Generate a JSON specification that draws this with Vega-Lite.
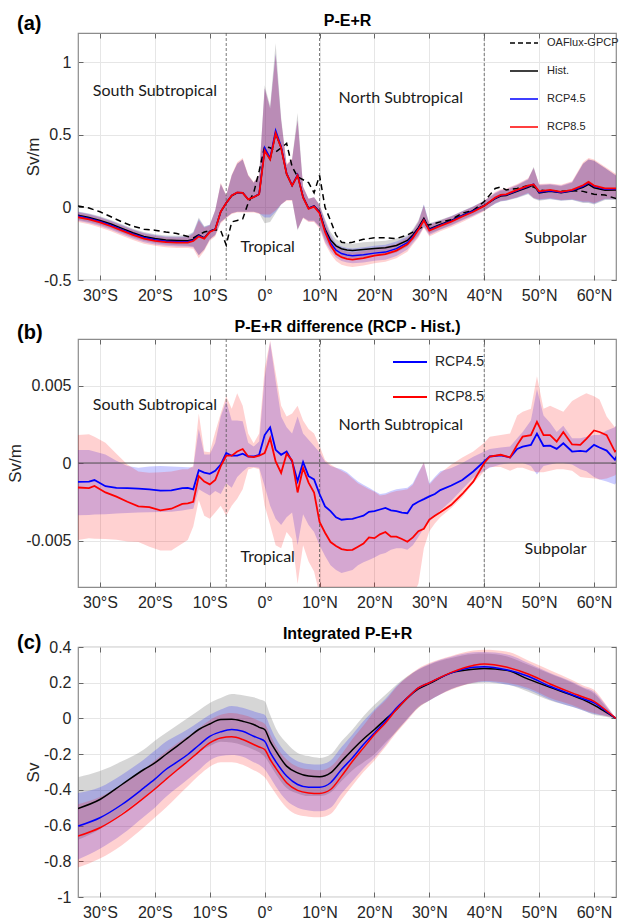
{
"$schema": "https://vega.github.io/schema/vega-lite/v6.json",
"background": "white",
"padding": {"left": 6, "top": 12, "right": 5, "bottom": 2},
"spacing": 14,
"config": {
  "font": "Liberation Sans",
  "view": {"stroke": "#8c8c8c", "strokeWidth": 1.2},
  "axis": {"domain": false, "gridColor": "#e6e6e6", "gridWidth": 1, "tickColor": "#666666", "tickWidth": 1, "tickSize": -5, "labelPadding": 12, "titlePadding": 1, "labelColor": "#262626", "labelFont": "Liberation Sans", "labelFontSize": 16, "titleFont": "Liberation Sans", "titleFontSize": 17, "titleFontWeight": "normal", "titleColor": "#262626"}
},
"resolve": {"scale": {"color": "independent", "x": "independent", "y": "independent"}, "legend": {"color": "independent"}},
"datasets": {
"a": [
{"x":-34,"o":0.01,"h":-0.055,"hl":-0.085,"hh":-0.028,"b":-0.06,"bl":-0.092,"bh":-0.03,"r":-0.068,"rl":-0.1,"rh":-0.035},
{"x":-32,"o":-0.005,"h":-0.07,"hl":-0.1,"hh":-0.042,"b":-0.076,"bl":-0.108,"bh":-0.046,"r":-0.083,"rl":-0.117,"rh":-0.05},
{"x":-30,"o":-0.03,"h":-0.09,"hl":-0.12,"hh":-0.062,"b":-0.097,"bl":-0.129,"bh":-0.067,"r":-0.104,"rl":-0.139,"rh":-0.07},
{"x":-28,"o":-0.065,"h":-0.115,"hl":-0.145,"hh":-0.087,"b":-0.122,"bl":-0.154,"bh":-0.092,"r":-0.13,"rl":-0.165,"rh":-0.096},
{"x":-26,"o":-0.1,"h":-0.145,"hl":-0.175,"hh":-0.117,"b":-0.153,"bl":-0.185,"bh":-0.122,"r":-0.16,"rl":-0.195,"rh":-0.126},
{"x":-24,"o":-0.13,"h":-0.175,"hl":-0.205,"hh":-0.147,"b":-0.183,"bl":-0.215,"bh":-0.152,"r":-0.19,"rl":-0.225,"rh":-0.156},
{"x":-22,"o":-0.15,"h":-0.2,"hl":-0.23,"hh":-0.17,"b":-0.208,"bl":-0.24,"bh":-0.176,"r":-0.215,"rl":-0.25,"rh":-0.18},
{"x":-20,"o":-0.157,"h":-0.215,"hl":-0.245,"hh":-0.185,"b":-0.223,"bl":-0.255,"bh":-0.191,"r":-0.23,"rl":-0.265,"rh":-0.195},
{"x":-18,"o":-0.17,"h":-0.225,"hl":-0.255,"hh":-0.193,"b":-0.233,"bl":-0.265,"bh":-0.2,"r":-0.24,"rl":-0.275,"rh":-0.205},
{"x":-16,"o":-0.18,"h":-0.228,"hl":-0.26,"hh":-0.195,"b":-0.236,"bl":-0.27,"bh":-0.203,"r":-0.243,"rl":-0.28,"rh":-0.208},
{"x":-14,"o":-0.2,"h":-0.23,"hl":-0.265,"hh":-0.19,"b":-0.237,"bl":-0.272,"bh":-0.2,"r":-0.243,"rl":-0.28,"rh":-0.205},
{"x":-13,"o":-0.21,"h":-0.222,"hl":-0.27,"hh":-0.17,"b":-0.227,"bl":-0.275,"bh":-0.175,"r":-0.232,"rl":-0.285,"rh":-0.18},
{"x":-12,"o":-0.19,"h":-0.19,"hl":-0.33,"hh":-0.07,"b":-0.195,"bl":-0.33,"bh":-0.08,"r":-0.2,"rl":-0.35,"rh":-0.09},
{"x":-11,"o":-0.17,"h":-0.21,"hl":-0.29,"hh":-0.13,"b":-0.212,"bl":-0.29,"bh":-0.135,"r":-0.215,"rl":-0.3,"rh":-0.14},
{"x":-10,"o":-0.16,"h":-0.165,"hl":-0.22,"hh":-0.12,"b":-0.167,"bl":-0.222,"bh":-0.12,"r":-0.17,"rl":-0.23,"rh":-0.125},
{"x":-9,"o":-0.155,"h":-0.15,"hl":-0.19,"hh":-0.02,"b":-0.15,"bl":-0.19,"bh":-0.02,"r":-0.152,"rl":-0.2,"rh":-0.02},
{"x":-8,"o":-0.16,"h":-0.03,"hl":-0.1,"hh":0.16,"b":-0.03,"bl":-0.1,"bh":0.16,"r":-0.03,"rl":-0.11,"rh":0.17},
{"x":-7,"o":-0.26,"h":0.03,"hl":-0.07,"hh":0.08,"b":0.03,"bl":-0.07,"bh":0.08,"r":0.03,"rl":-0.075,"rh":0.085},
{"x":-6,"o":-0.1,"h":0.08,"hl":-0.04,"hh":0.22,"b":0.082,"bl":-0.04,"bh":0.22,"r":0.082,"rl":-0.045,"rh":0.225},
{"x":-5,"o":-0.09,"h":0.1,"hl":-0.03,"hh":0.3,"b":0.102,"bl":-0.03,"bh":0.3,"r":0.103,"rl":-0.035,"rh":0.31},
{"x":-4,"o":-0.08,"h":0.1,"hl":-0.03,"hh":0.33,"b":0.1,"bl":-0.03,"bh":0.33,"r":0.1,"rl":-0.035,"rh":0.34},
{"x":-3,"o":0.03,"h":0.055,"hl":-0.03,"hh":0.22,"b":0.056,"bl":-0.03,"bh":0.22,"r":0.055,"rl":-0.035,"rh":0.225},
{"x":-2,"o":0.1,"h":0.07,"hl":-0.03,"hh":0.17,"b":0.07,"bl":-0.03,"bh":0.17,"r":0.07,"rl":-0.035,"rh":0.175},
{"x":-1,"o":0.25,"h":0.09,"hl":-0.04,"hh":0.22,"b":0.092,"bl":-0.04,"bh":0.22,"r":0.09,"rl":-0.045,"rh":0.225},
{"x":0,"o":0.42,"h":0.4,"hl":-0.11,"hh":0.84,"b":0.41,"bl":-0.07,"bh":0.82,"r":0.39,"rl":-0.05,"rh":0.82},
{"x":1,"o":0.41,"h":0.33,"hl":-0.1,"hh":0.7,"b":0.34,"bl":-0.07,"bh":0.68,"r":0.33,"rl":-0.05,"rh":0.68},
{"x":2,"o":0.38,"h":0.51,"hl":-0.04,"hh":1.13,"b":0.53,"bl":-0.03,"bh":1.06,"r":0.51,"rl":-0.02,"rh":1.05},
{"x":3,"o":0.41,"h":0.41,"hl":0.02,"hh":0.62,"b":0.42,"bl":0.02,"bh":0.6,"r":0.41,"rl":0.02,"rh":0.6},
{"x":4,"o":0.44,"h":0.23,"hl":0.05,"hh":0.29,"b":0.235,"bl":0.05,"bh":0.29,"r":0.23,"rl":0.045,"rh":0.3},
{"x":5,"o":0.28,"h":0.15,"hl":0.05,"hh":0.33,"b":0.152,"bl":0.05,"bh":0.33,"r":0.15,"rl":0.045,"rh":0.335},
{"x":6,"o":0.21,"h":0.22,"hl":-0.16,"hh":0.65,"b":0.225,"bl":-0.15,"bh":0.6,"r":0.22,"rl":-0.15,"rh":0.6},
{"x":7,"o":0.19,"h":0.07,"hl":-0.07,"hh":0.14,"b":0.07,"bl":-0.07,"bh":0.14,"r":0.068,"rl":-0.075,"rh":0.145},
{"x":8,"o":0.17,"h":-0.005,"hl":-0.09,"hh":0.06,"b":-0.008,"bl":-0.095,"bh":0.06,"r":-0.01,"rl":-0.1,"rh":0.06},
{"x":9,"o":0.1,"h":0.01,"hl":-0.09,"hh":0.07,"b":0.008,"bl":-0.095,"bh":0.07,"r":0.005,"rl":-0.1,"rh":0.07},
{"x":10,"o":0.22,"h":-0.03,"hl":-0.13,"hh":0.02,"b":-0.035,"bl":-0.135,"bh":0.015,"r":-0.04,"rl":-0.145,"rh":0.015},
{"x":11,"o":0,"h":-0.15,"hl":-0.22,"hh":-0.08,"b":-0.16,"bl":-0.24,"bh":-0.09,"r":-0.17,"rl":-0.25,"rh":-0.1},
{"x":12,"o":-0.09,"h":-0.225,"hl":-0.28,"hh":-0.17,"b":-0.245,"bl":-0.3,"bh":-0.19,"r":-0.26,"rl":-0.32,"rh":-0.2},
{"x":13,"o":-0.19,"h":-0.265,"hl":-0.315,"hh":-0.22,"b":-0.295,"bl":-0.345,"bh":-0.25,"r":-0.32,"rl":-0.37,"rh":-0.27},
{"x":14,"o":-0.24,"h":-0.285,"hl":-0.335,"hh":-0.24,"b":-0.318,"bl":-0.37,"bh":-0.27,"r":-0.343,"rl":-0.395,"rh":-0.29},
{"x":15,"o":-0.245,"h":-0.293,"hl":-0.345,"hh":-0.245,"b":-0.328,"bl":-0.38,"bh":-0.28,"r":-0.355,"rl":-0.405,"rh":-0.305},
{"x":16,"o":-0.24,"h":-0.297,"hl":-0.35,"hh":-0.25,"b":-0.333,"bl":-0.385,"bh":-0.283,"r":-0.36,"rl":-0.41,"rh":-0.31},
{"x":18,"o":-0.22,"h":-0.29,"hl":-0.345,"hh":-0.24,"b":-0.326,"bl":-0.38,"bh":-0.275,"r":-0.35,"rl":-0.4,"rh":-0.3},
{"x":20,"o":-0.21,"h":-0.283,"hl":-0.335,"hh":-0.235,"b":-0.315,"bl":-0.368,"bh":-0.265,"r":-0.332,"rl":-0.385,"rh":-0.28},
{"x":22,"o":-0.21,"h":-0.278,"hl":-0.33,"hh":-0.23,"b":-0.308,"bl":-0.36,"bh":-0.258,"r":-0.322,"rl":-0.375,"rh":-0.27},
{"x":24,"o":-0.215,"h":-0.262,"hl":-0.31,"hh":-0.215,"b":-0.284,"bl":-0.335,"bh":-0.235,"r":-0.298,"rl":-0.35,"rh":-0.25},
{"x":26,"o":-0.19,"h":-0.228,"hl":-0.27,"hh":-0.19,"b":-0.243,"bl":-0.29,"bh":-0.2,"r":-0.255,"rl":-0.305,"rh":-0.21},
{"x":27,"o":-0.17,"h":-0.19,"hl":-0.23,"hh":-0.15,"b":-0.2,"bl":-0.245,"bh":-0.16,"r":-0.21,"rl":-0.255,"rh":-0.165},
{"x":28,"o":-0.15,"h":-0.14,"hl":-0.19,"hh":-0.09,"b":-0.148,"bl":-0.2,"bh":-0.1,"r":-0.155,"rl":-0.21,"rh":-0.1},
{"x":29,"o":-0.13,"h":-0.075,"hl":-0.13,"hh":0.02,"b":-0.085,"bl":-0.135,"bh":0.02,"r":-0.09,"rl":-0.14,"rh":0.01},
{"x":30,"o":-0.12,"h":-0.148,"hl":-0.18,"hh":-0.11,"b":-0.153,"bl":-0.19,"bh":-0.115,"r":-0.16,"rl":-0.2,"rh":-0.12},
{"x":32,"o":-0.1,"h":-0.118,"hl":-0.15,"hh":-0.085,"b":-0.122,"bl":-0.155,"bh":-0.09,"r":-0.128,"rl":-0.165,"rh":-0.09},
{"x":34,"o":-0.085,"h":-0.09,"hl":-0.12,"hh":-0.06,"b":-0.093,"bl":-0.125,"bh":-0.062,"r":-0.098,"rl":-0.135,"rh":-0.063},
{"x":36,"o":-0.04,"h":-0.055,"hl":-0.085,"hh":-0.025,"b":-0.058,"bl":-0.09,"bh":-0.027,"r":-0.063,"rl":-0.1,"rh":-0.028},
{"x":38,"o":-0.02,"h":-0.022,"hl":-0.052,"hh":0.008,"b":-0.025,"bl":-0.057,"bh":0.006,"r":-0.03,"rl":-0.065,"rh":0.005},
{"x":40,"o":0.04,"h":0.013,"hl":-0.02,"hh":0.045,"b":0.012,"bl":-0.022,"bh":0.045,"r":0.01,"rl":-0.027,"rh":0.045},
{"x":42,"o":0.13,"h":0.06,"hl":0.025,"hh":0.095,"b":0.063,"bl":0.025,"bh":0.1,"r":0.068,"rl":0.03,"rh":0.105},
{"x":43,"o":0.14,"h":0.078,"hl":0.04,"hh":0.115,"b":0.082,"bl":0.042,"bh":0.12,"r":0.086,"rl":0.045,"rh":0.125},
{"x":44,"o":0.12,"h":0.082,"hl":0.045,"hh":0.12,"b":0.086,"bl":0.047,"bh":0.125,"r":0.09,"rl":0.05,"rh":0.13},
{"x":46,"o":0.13,"h":0.11,"hl":0.065,"hh":0.15,"b":0.115,"bl":0.068,"bh":0.155,"r":0.12,"rl":0.07,"rh":0.16},
{"x":48,"o":0.15,"h":0.138,"hl":0.09,"hh":0.19,"b":0.145,"bl":0.095,"bh":0.195,"r":0.15,"rl":0.1,"rh":0.2},
{"x":49,"o":0.14,"h":0.155,"hl":0.06,"hh":0.28,"b":0.16,"bl":0.065,"bh":0.27,"r":0.158,"rl":0.065,"rh":0.27},
{"x":50,"o":0.12,"h":0.1,"hl":0.045,"hh":0.15,"b":0.105,"bl":0.05,"bh":0.155,"r":0.11,"rl":0.055,"rh":0.16},
{"x":52,"o":0.11,"h":0.11,"hl":0.055,"hh":0.155,"b":0.115,"bl":0.06,"bh":0.16,"r":0.12,"rl":0.065,"rh":0.165},
{"x":54,"o":0.11,"h":0.1,"hl":0.045,"hh":0.145,"b":0.103,"bl":0.048,"bh":0.15,"r":0.106,"rl":0.05,"rh":0.155},
{"x":56,"o":0.115,"h":0.112,"hl":0.05,"hh":0.17,"b":0.116,"bl":0.052,"bh":0.175,"r":0.12,"rl":0.055,"rh":0.18},
{"x":58,"o":0.11,"h":0.138,"hl":0.03,"hh":0.3,"b":0.145,"bl":0.035,"bh":0.3,"r":0.152,"rl":0.04,"rh":0.31},
{"x":59,"o":0.1,"h":0.158,"hl":0.03,"hh":0.33,"b":0.168,"bl":0.035,"bh":0.33,"r":0.175,"rl":0.04,"rh":0.34},
{"x":60,"o":0.09,"h":0.135,"hl":0.02,"hh":0.32,"b":0.145,"bl":0.025,"bh":0.32,"r":0.15,"rl":0.03,"rh":0.33},
{"x":62,"o":0.085,"h":0.118,"hl":0.05,"hh":0.27,"b":0.125,"bl":0.055,"bh":0.27,"r":0.13,"rl":0.06,"rh":0.28},
{"x":64,"o":0.06,"h":0.12,"hl":0.05,"hh":0.22,"b":0.127,"bl":0.055,"bh":0.22,"r":0.13,"rl":0.06,"rh":0.23}
],
"b": [
{"x":-34,"b":-0.00122,"bl":-0.00337,"bh":0.00084,"r":-0.00158,"rl":-0.00496,"rh":0.0018},
{"x":-32,"b":-0.0012,"bl":-0.00335,"bh":0.00084,"r":-0.00162,"rl":-0.00485,"rh":0.00185},
{"x":-31,"b":-0.0011,"bl":-0.00333,"bh":0.00075,"r":-0.00148,"rl":-0.00488,"rh":0.0017},
{"x":-29,"b":-0.0015,"bl":-0.0033,"bh":0.00055,"r":-0.0019,"rl":-0.0049,"rh":0.0013},
{"x":-27,"b":-0.0016,"bl":-0.00325,"bh":0.00015,"r":-0.00217,"rl":-0.00495,"rh":0.0006},
{"x":-25,"b":-0.00162,"bl":-0.00322,"bh":-0.0002,"r":-0.0025,"rl":-0.00506,"rh":-0.0001},
{"x":-23,"b":-0.00165,"bl":-0.0032,"bh":-0.0003,"r":-0.0028,"rl":-0.0051,"rh":-0.00055},
{"x":-21,"b":-0.0017,"bl":-0.00318,"bh":-0.00022,"r":-0.00285,"rl":-0.0054,"rh":-0.00063},
{"x":-19,"b":-0.00178,"bl":-0.00316,"bh":-0.0002,"r":-0.00306,"rl":-0.00565,"rh":-0.0006},
{"x":-17,"b":-0.00176,"bl":-0.00314,"bh":-0.00022,"r":-0.00295,"rl":-0.00565,"rh":-0.00055},
{"x":-15,"b":-0.00162,"bl":-0.00306,"bh":-0.00025,"r":-0.00264,"rl":-0.0052,"rh":-0.0004},
{"x":-14,"b":-0.0016,"bl":-0.003,"bh":-0.00028,"r":-0.0026,"rl":-0.00496,"rh":-0.0004},
{"x":-13,"b":-0.0017,"bl":-0.00295,"bh":-0.00028,"r":-0.0025,"rl":-0.0041,"rh":-0.0002},
{"x":-12,"b":-0.00046,"bl":-0.0017,"bh":0.0022,"r":-0.00084,"rl":-0.0024,"rh":0.0032},
{"x":-11,"b":-0.00062,"bl":-0.0019,"bh":0.00055,"r":-0.0012,"rl":-0.0034,"rh":0.00074},
{"x":-10,"b":-0.0007,"bl":-0.0021,"bh":0.00055,"r":-0.00138,"rl":-0.0036,"rh":0.0007},
{"x":-9,"b":-0.0005,"bl":-0.0018,"bh":0.0013,"r":-0.0011,"rl":-0.0032,"rh":0.002},
{"x":-8,"b":-0.0001,"bl":-0.002,"bh":0.003,"r":-0.0002,"rl":-0.00275,"rh":0.0032},
{"x":-7,"b":0.00065,"bl":-0.0013,"bh":0.004,"r":0.00047,"rl":-0.0034,"rh":0.0043},
{"x":-6,"b":0.00047,"bl":-0.0016,"bh":0.00275,"r":0.00047,"rl":-0.00275,"rh":0.0035},
{"x":-5,"b":0.00047,"bl":-0.0009,"bh":0.00275,"r":0.00074,"rl":-0.0023,"rh":0.0045},
{"x":-4,"b":0.0006,"bl":-0.00055,"bh":0.0027,"r":0.0009,"rl":-0.0017,"rh":0.0037},
{"x":-3,"b":0.00042,"bl":-0.00025,"bh":0.0013,"r":0.00042,"rl":-0.00042,"rh":0.0019},
{"x":-2,"b":0.00042,"bl":-0.00025,"bh":0.00106,"r":0.00038,"rl":-0.0003,"rh":0.00127},
{"x":-1,"b":0.00053,"bl":-0.0003,"bh":0.00138,"r":0.00047,"rl":-0.0004,"rh":0.0019},
{"x":0,"b":0.0018,"bl":-0.0015,"bh":0.0055,"r":0.00064,"rl":-0.00275,"rh":0.0061},
{"x":1,"b":0.0023,"bl":-0.00275,"bh":0.0078,"r":0.0016,"rl":-0.004,"rh":0.0079},
{"x":2,"b":0.00085,"bl":-0.0036,"bh":0.0053,"r":0.0001,"rl":-0.0053,"rh":0.0058},
{"x":3,"b":0.00053,"bl":-0.004,"bh":0.003,"r":-0.00064,"rl":-0.0055,"rh":0.0037},
{"x":4,"b":0.00074,"bl":-0.0035,"bh":0.0023,"r":0.0006,"rl":-0.00445,"rh":0.003},
{"x":5,"b":0.0001,"bl":-0.0032,"bh":0.0019,"r":0.00017,"rl":-0.0049,"rh":0.0032},
{"x":6,"b":-0.00117,"bl":-0.0053,"bh":0.003,"r":-0.0019,"rl":-0.0078,"rh":0.0037},
{"x":7,"b":0.00006,"bl":-0.0033,"bh":0.0019,"r":-0.00032,"rl":-0.0053,"rh":0.00275},
{"x":8,"b":-0.00085,"bl":-0.004,"bh":0.0015,"r":-0.00127,"rl":-0.00635,"rh":0.0022},
{"x":9,"b":-0.00106,"bl":-0.00445,"bh":0.0011,"r":-0.0019,"rl":-0.007,"rh":0.0019},
{"x":10,"b":-0.002,"bl":-0.0053,"bh":0.0007,"r":-0.0038,"rl":-0.0085,"rh":0.0011},
{"x":11,"b":-0.0028,"bl":-0.006,"bh":0.0001,"r":-0.0045,"rl":-0.009,"rh":0.0002},
{"x":12,"b":-0.0031,"bl":-0.0066,"bh":-0.0002,"r":-0.0051,"rl":-0.009,"rh":-0.0001},
{"x":13,"b":-0.0035,"bl":-0.0069,"bh":-0.0003,"r":-0.00535,"rl":-0.009,"rh":-0.0003},
{"x":14,"b":-0.00366,"bl":-0.0071,"bh":-0.0004,"r":-0.00555,"rl":-0.009,"rh":-0.0005},
{"x":15,"b":-0.00362,"bl":-0.007,"bh":-0.0006,"r":-0.00562,"rl":-0.009,"rh":-0.0007},
{"x":16,"b":-0.0036,"bl":-0.0069,"bh":-0.0009,"r":-0.0056,"rl":-0.009,"rh":-0.001},
{"x":17,"b":-0.0035,"bl":-0.0066,"bh":-0.0012,"r":-0.0054,"rl":-0.009,"rh":-0.0013},
{"x":18,"b":-0.0034,"bl":-0.0064,"bh":-0.0014,"r":-0.0052,"rl":-0.009,"rh":-0.0015},
{"x":19,"b":-0.00315,"bl":-0.00625,"bh":-0.0016,"r":-0.0048,"rl":-0.009,"rh":-0.0017},
{"x":20,"b":-0.0031,"bl":-0.0061,"bh":-0.0018,"r":-0.00485,"rl":-0.009,"rh":-0.00185},
{"x":21,"b":-0.003,"bl":-0.0059,"bh":-0.002,"r":-0.0046,"rl":-0.009,"rh":-0.0021},
{"x":22,"b":-0.0029,"bl":-0.0058,"bh":-0.00195,"r":-0.00445,"rl":-0.009,"rh":-0.00205},
{"x":23,"b":-0.00305,"bl":-0.0056,"bh":-0.0018,"r":-0.00475,"rl":-0.009,"rh":-0.0019},
{"x":24,"b":-0.0031,"bl":-0.0055,"bh":-0.0017,"r":-0.00475,"rl":-0.009,"rh":-0.0018},
{"x":25,"b":-0.0032,"bl":-0.0055,"bh":-0.00165,"r":-0.0049,"rl":-0.009,"rh":-0.00175},
{"x":26,"b":-0.00324,"bl":-0.0056,"bh":-0.0016,"r":-0.00508,"rl":-0.009,"rh":-0.0017},
{"x":27,"b":-0.0027,"bl":-0.0053,"bh":-0.0013,"r":-0.0048,"rl":-0.0085,"rh":-0.0014},
{"x":28,"b":-0.0025,"bl":-0.00477,"bh":-0.0006,"r":-0.0044,"rl":-0.0078,"rh":-0.0007},
{"x":29,"b":-0.00233,"bl":-0.0042,"bh":0,"r":-0.00424,"rl":-0.0055,"rh":0.00006},
{"x":30,"b":-0.00215,"bl":-0.0038,"bh":-0.0013,"r":-0.00365,"rl":-0.0044,"rh":-0.0014},
{"x":31,"b":-0.002,"bl":-0.0034,"bh":-0.0009,"r":-0.0034,"rl":-0.0039,"rh":-0.001},
{"x":32,"b":-0.00175,"bl":-0.00307,"bh":-0.00053,"r":-0.00318,"rl":-0.0035,"rh":-0.00064},
{"x":34,"b":-0.00145,"bl":-0.00244,"bh":-0.00032,"r":-0.0027,"rl":-0.0029,"rh":-0.0001},
{"x":36,"b":-0.0011,"bl":-0.0017,"bh":0,"r":-0.002,"rl":-0.0022,"rh":0.00035},
{"x":38,"b":-0.00055,"bl":-0.00095,"bh":0.0004,"r":-0.0012,"rl":-0.0013,"rh":0.00075},
{"x":40,"b":0.0001,"bl":-0.0005,"bh":0.00075,"r":0,"rl":-0.00055,"rh":0.0013},
{"x":41,"b":0.00042,"bl":-0.0003,"bh":0.0009,"r":0.00042,"rl":-0.00025,"rh":0.0017},
{"x":43,"b":0.00049,"bl":-0.0001,"bh":0.001,"r":0.00053,"rl":-0.00025,"rh":0.0018},
{"x":44.7,"b":0.00036,"bl":0,"bh":0.00106,"r":0.00036,"rl":-0.0005,"rh":0.0019},
{"x":46,"b":0.00091,"bl":0,"bh":0.0016,"r":0.00117,"rl":-0.0003,"rh":0.00307},
{"x":47,"b":0.00105,"bl":0,"bh":0.002,"r":0.0017,"rl":-0.0003,"rh":0.0033},
{"x":48.5,"b":0.00117,"bl":-0.0002,"bh":0.00275,"r":0.0018,"rl":-0.0005,"rh":0.0035},
{"x":49.6,"b":0.0019,"bl":-0.00074,"bh":0.00477,"r":0.00265,"rl":-0.0006,"rh":0.0056},
{"x":50.8,"b":0.0011,"bl":-0.0002,"bh":0.00307,"r":0.0018,"rl":-0.0006,"rh":0.0035},
{"x":52,"b":0.00112,"bl":-0.0001,"bh":0.0026,"r":0.0018,"rl":-0.0005,"rh":0.0037},
{"x":53.2,"b":0.00091,"bl":0,"bh":0.002,"r":0.00138,"rl":-0.0004,"rh":0.0035},
{"x":54.4,"b":0.00127,"bl":0,"bh":0.0024,"r":0.002,"rl":-0.0004,"rh":0.0033},
{"x":56,"b":0.00074,"bl":-0.0001,"bh":0.0016,"r":0.0012,"rl":-0.0005,"rh":0.004},
{"x":57.5,"b":0.00078,"bl":-0.0004,"bh":0.0016,"r":0.00117,"rl":-0.0009,"rh":0.0043},
{"x":58.6,"b":0.00074,"bl":-0.00053,"bh":0.0017,"r":0.00155,"rl":-0.00095,"rh":0.0045},
{"x":60,"b":0.00117,"bl":-0.0009,"bh":0.0018,"r":0.0021,"rl":-0.001,"rh":0.0043},
{"x":61,"b":0.001,"bl":-0.00106,"bh":0.0018,"r":0.002,"rl":-0.00106,"rh":0.0041},
{"x":62.3,"b":0.0008,"bl":-0.0012,"bh":0.0021,"r":0.0018,"rl":-0.001,"rh":0.003},
{"x":63.8,"b":0.00021,"bl":-0.00138,"bh":0.0023,"r":0.00074,"rl":-0.0008,"rh":0.0023},
{"x":64.7,"b":0.00085,"bl":-0.00095,"bh":0.00275,"r":0.00095,"rl":-0.0005,"rh":0.00275}
],
"c": [
{"x":-34,"h":-0.504,"hl":-0.68,"hh":-0.329,"b":-0.603,"bl":-0.79,"bh":-0.417,"r":-0.659,"rl":-0.835,"rh":-0.48},
{"x":-30,"h":-0.454,"hl":-0.62,"hh":-0.295,"b":-0.556,"bl":-0.73,"bh":-0.385,"r":-0.612,"rl":-0.785,"rh":-0.44},
{"x":-26,"h":-0.37,"hl":-0.53,"hh":-0.24,"b":-0.482,"bl":-0.65,"bh":-0.315,"r":-0.538,"rl":-0.71,"rh":-0.37},
{"x":-22,"h":-0.286,"hl":-0.44,"hh":-0.174,"b":-0.389,"bl":-0.55,"bh":-0.23,"r":-0.445,"rl":-0.61,"rh":-0.285},
{"x":-20,"h":-0.249,"hl":-0.4,"hh":-0.125,"b":-0.34,"bl":-0.5,"bh":-0.18,"r":-0.395,"rl":-0.555,"rh":-0.235},
{"x":-18,"h":-0.202,"hl":-0.34,"hh":-0.081,"b":-0.286,"bl":-0.44,"bh":-0.13,"r":-0.342,"rl":-0.5,"rh":-0.185},
{"x":-16,"h":-0.156,"hl":-0.29,"hh":-0.04,"b":-0.245,"bl":-0.39,"bh":-0.095,"r":-0.29,"rl":-0.44,"rh":-0.14},
{"x":-14,"h":-0.109,"hl":-0.24,"hh":0.003,"b":-0.202,"bl":-0.34,"bh":-0.06,"r":-0.24,"rl":-0.38,"rh":-0.1},
{"x":-12,"h":-0.062,"hl":-0.19,"hh":0.045,"b":-0.15,"bl":-0.29,"bh":-0.02,"r":-0.187,"rl":-0.32,"rh":-0.055},
{"x":-10,"h":-0.031,"hl":-0.155,"hh":0.087,"b":-0.1,"bl":-0.235,"bh":0.02,"r":-0.137,"rl":-0.27,"rh":-0.01},
{"x":-8,"h":-0.006,"hl":-0.13,"hh":0.115,"b":-0.075,"bl":-0.21,"bh":0.05,"r":-0.109,"rl":-0.245,"rh":0.02},
{"x":-6,"h":-0.005,"hl":-0.135,"hh":0.137,"b":-0.062,"bl":-0.205,"bh":0.07,"r":-0.103,"rl":-0.245,"rh":0.03},
{"x":-4,"h":-0.016,"hl":-0.15,"hh":0.13,"b":-0.072,"bl":-0.215,"bh":0.06,"r":-0.118,"rl":-0.26,"rh":0.02},
{"x":-2,"h":-0.034,"hl":-0.175,"hh":0.118,"b":-0.1,"bl":-0.245,"bh":0.04,"r":-0.146,"rl":-0.29,"rh":0},
{"x":-1,"h":-0.05,"hl":-0.19,"hh":0.108,"b":-0.112,"bl":-0.26,"bh":0.03,"r":-0.16,"rl":-0.305,"rh":-0.015},
{"x":0,"h":-0.062,"hl":-0.215,"hh":0.096,"b":-0.128,"bl":-0.285,"bh":0.02,"r":-0.174,"rl":-0.33,"rh":-0.03},
{"x":1,"h":-0.128,"hl":-0.26,"hh":0.02,"b":-0.19,"bl":-0.33,"bh":-0.045,"r":-0.23,"rl":-0.375,"rh":-0.09},
{"x":2,"h":-0.18,"hl":-0.31,"hh":-0.053,"b":-0.24,"bl":-0.38,"bh":-0.11,"r":-0.277,"rl":-0.42,"rh":-0.15},
{"x":4,"h":-0.267,"hl":-0.39,"hh":-0.137,"b":-0.323,"bl":-0.46,"bh":-0.195,"r":-0.36,"rl":-0.5,"rh":-0.23},
{"x":6,"h":-0.305,"hl":-0.42,"hh":-0.193,"b":-0.37,"bl":-0.5,"bh":-0.24,"r":-0.403,"rl":-0.54,"rh":-0.27},
{"x":8,"h":-0.323,"hl":-0.435,"hh":-0.211,"b":-0.385,"bl":-0.515,"bh":-0.255,"r":-0.417,"rl":-0.55,"rh":-0.285},
{"x":10,"h":-0.327,"hl":-0.435,"hh":-0.221,"b":-0.385,"bl":-0.52,"bh":-0.258,"r":-0.42,"rl":-0.553,"rh":-0.29},
{"x":12,"h":-0.305,"hl":-0.415,"hh":-0.202,"b":-0.36,"bl":-0.5,"bh":-0.235,"r":-0.398,"rl":-0.535,"rh":-0.27},
{"x":14,"h":-0.24,"hl":-0.35,"hh":-0.128,"b":-0.286,"bl":-0.42,"bh":-0.16,"r":-0.323,"rl":-0.455,"rh":-0.2},
{"x":16,"h":-0.175,"hl":-0.29,"hh":-0.062,"b":-0.22,"bl":-0.35,"bh":-0.09,"r":-0.24,"rl":-0.375,"rh":-0.115},
{"x":18,"h":-0.115,"hl":-0.245,"hh":0.012,"b":-0.146,"bl":-0.28,"bh":-0.015,"r":-0.165,"rl":-0.3,"rh":-0.04},
{"x":20,"h":-0.062,"hl":-0.2,"hh":0.077,"b":-0.081,"bl":-0.22,"bh":0.05,"r":-0.09,"rl":-0.235,"rh":0.04},
{"x":22,"h":-0.005,"hl":-0.135,"hh":0.133,"b":-0.016,"bl":-0.15,"bh":0.11,"r":-0.025,"rl":-0.16,"rh":0.1},
{"x":24,"h":0.05,"hl":-0.075,"hh":0.189,"b":0.059,"bl":-0.07,"bh":0.18,"r":0.05,"rl":-0.08,"rh":0.175},
{"x":26,"h":0.115,"hl":0,"hh":0.236,"b":0.115,"bl":-0.005,"bh":0.23,"r":0.115,"rl":-0.01,"rh":0.235},
{"x":28,"h":0.165,"hl":0.06,"hh":0.273,"b":0.171,"bl":0.065,"bh":0.275,"r":0.171,"rl":0.06,"rh":0.28},
{"x":30,"h":0.195,"hl":0.1,"hh":0.301,"b":0.2,"bl":0.1,"bh":0.305,"r":0.2,"rl":0.1,"rh":0.31},
{"x":34,"h":0.255,"hl":0.165,"hh":0.338,"b":0.255,"bl":0.165,"bh":0.345,"r":0.258,"rl":0.16,"rh":0.35},
{"x":38,"h":0.275,"hl":0.195,"hh":0.361,"b":0.286,"bl":0.2,"bh":0.37,"r":0.297,"rl":0.2,"rh":0.38},
{"x":40,"h":0.279,"hl":0.2,"hh":0.363,"b":0.29,"bl":0.205,"bh":0.372,"r":0.305,"rl":0.21,"rh":0.385},
{"x":44,"h":0.27,"hl":0.19,"hh":0.348,"b":0.273,"bl":0.19,"bh":0.36,"r":0.288,"rl":0.2,"rh":0.375},
{"x":48,"h":0.22,"hl":0.15,"hh":0.3,"b":0.236,"bl":0.16,"bh":0.31,"r":0.249,"rl":0.17,"rh":0.325},
{"x":52,"h":0.174,"hl":0.1,"hh":0.25,"b":0.18,"bl":0.105,"bh":0.255,"r":0.193,"rl":0.115,"rh":0.27},
{"x":56,"h":0.13,"hl":0.065,"hh":0.2,"b":0.133,"bl":0.065,"bh":0.205,"r":0.143,"rl":0.075,"rh":0.215},
{"x":58,"h":0.105,"hl":0.045,"hh":0.17,"b":0.11,"bl":0.045,"bh":0.175,"r":0.12,"rl":0.05,"rh":0.185},
{"x":60,"h":0.074,"hl":0.02,"hh":0.14,"b":0.087,"bl":0.025,"bh":0.15,"r":0.096,"rl":0.03,"rh":0.16},
{"x":62,"h":0.038,"hl":0.01,"hh":0.07,"b":0.045,"bl":0.015,"bh":0.08,"r":0.05,"rl":0.015,"rh":0.085},
{"x":64,"h":0,"hl":0,"hh":0,"b":0,"bl":0,"bh":0,"r":0,"rl":0,"rh":0}
]
},
"vconcat": [
{
 "width": 538, "height": 247,
 "data": {"name": "a"},
 "resolve": {"axis": {"x": "independent", "y": "independent"}},
 "layer": [
  {"mark": {"type": "area", "color": "#808080", "opacity": 0.32, "clip": true},
   "encoding": {
    "x": {"field": "x", "type": "quantitative", "scale": {"domain": [-34, 64], "nice": false, "zero": false}, "axis": {"orient": "bottom", "values": [-30,-20,-10,0,10,20,30,40,50,60], "labelExpr": "datum.value < 0 ? (-datum.value) + '°S' : (datum.value > 0 ? datum.value + '°N' : '0°')", "grid": true, "title": null}},
    "y": {"field": "hl", "type": "quantitative", "scale": {"domain": [-0.5, 1.2], "nice": false, "zero": false}, "axis": {"orient": "left", "values": [-0.5, 0, 0.5, 1], "labelExpr": "replace(format(datum.value, '~g'), '\u2212', '-')", "grid": true, "title": "Sv/m"}},
    "y2": {"field": "hh"}}},
  {"mark": {"type": "area", "color": "#0000ff", "opacity": 0.2, "clip": true},
   "encoding": {
    "x": {"field": "x", "type": "quantitative", "scale": {"domain": [-34, 64], "nice": false, "zero": false}, "axis": {"orient": "top", "values": [-30,-20,-10,0,10,20,30,40,50,60], "labels": false, "grid": false, "title": null}},
    "y": {"field": "bl", "type": "quantitative", "scale": {"domain": [-0.5, 1.2], "nice": false, "zero": false}, "axis": {"orient": "right", "values": [-0.5, 0, 0.5, 1], "labels": false, "grid": false, "title": null}},
    "y2": {"field": "bh"}}},
  {"mark": {"type": "area", "color": "#ff0000", "opacity": 0.18, "clip": true},
   "encoding": {
    "x": {"field": "x", "type": "quantitative", "scale": {"domain": [-34, 64], "nice": false, "zero": false}, "axis": null},
    "y": {"field": "rl", "type": "quantitative", "scale": {"domain": [-0.5, 1.2], "nice": false, "zero": false}, "axis": null},
    "y2": {"field": "rh"}}},
  {"data": {"values": [{"v": -7}, {"v": 10}, {"v": 40}]},
   "mark": {"type": "rule", "color": "#555555", "strokeWidth": 0.8, "strokeDash": [3, 2]},
   "encoding": {"x": {"field": "v", "type": "quantitative", "scale": {"domain": [-34, 64], "nice": false, "zero": false}, "axis": null}}},
  {"mark": {"type": "line", "strokeDash": [6, 4], "strokeWidth": 1.5, "clip": true},
   "encoding": {
    "x": {"field": "x", "type": "quantitative", "scale": {"domain": [-34, 64], "nice": false, "zero": false}, "axis": null},
    "y": {"field": "o", "type": "quantitative", "scale": {"domain": [-0.5, 1.2], "nice": false, "zero": false}, "axis": null},
    "color": {"datum": "OAFlux-GPCP", "type": "nominal", "scale": {"domain": ["OAFlux-GPCP", "Hist.", "RCP4.5", "RCP8.5"], "range": ["#000000", "#000000", "#0000ff", "#ff0000"]},
     "legend": {"title": null, "orient": "none", "legendX": 431, "legendY": -5, "symbolType": "stroke", "symbolSize": 784, "symbolStrokeWidth": 1.5, "labelFont": "Liberation Sans", "labelFontSize": 11, "labelColor": "#262626", "labelOffset": 8, "rowPadding": 8, "padding": 0,
      "encode": {"symbols": {"update": {"strokeDash": {"signal": "datum.value == 'OAFlux-GPCP' ? [5, 3] : [1, 0]"}}}}}}}},
  {"mark": {"type": "line", "strokeWidth": 1.5, "clip": true},
   "encoding": {
    "x": {"field": "x", "type": "quantitative", "scale": {"domain": [-34, 64], "nice": false, "zero": false}, "axis": null},
    "y": {"field": "h", "type": "quantitative", "scale": {"domain": [-0.5, 1.2], "nice": false, "zero": false}, "axis": null},
    "color": {"datum": "Hist.", "type": "nominal"}}},
  {"mark": {"type": "line", "strokeWidth": 1.5, "clip": true},
   "encoding": {
    "x": {"field": "x", "type": "quantitative", "scale": {"domain": [-34, 64], "nice": false, "zero": false}, "axis": null},
    "y": {"field": "b", "type": "quantitative", "scale": {"domain": [-0.5, 1.2], "nice": false, "zero": false}, "axis": null},
    "color": {"datum": "RCP4.5", "type": "nominal"}}},
  {"mark": {"type": "line", "strokeWidth": 1.8, "clip": true},
   "encoding": {
    "x": {"field": "x", "type": "quantitative", "scale": {"domain": [-34, 64], "nice": false, "zero": false}, "axis": null},
    "y": {"field": "r", "type": "quantitative", "scale": {"domain": [-0.5, 1.2], "nice": false, "zero": false}, "axis": null},
    "color": {"datum": "RCP8.5", "type": "nominal"}}},
  {"data": {"values": [{}]}, "mark": {"type": "text", "text": "South Subtropical", "font": "Lato", "fontSize": 16, "color": "#1a1a1a"},
   "encoding": {"x": {"datum": -20, "type": "quantitative", "scale": {"domain": [-34, 64], "nice": false, "zero": false}, "axis": null}, "y": {"datum": 0.8, "type": "quantitative", "scale": {"domain": [-0.5, 1.2], "nice": false, "zero": false}, "axis": null}}},
  {"data": {"values": [{}]}, "mark": {"type": "text", "text": "Tropical", "font": "Lato", "fontSize": 16, "color": "#1a1a1a"},
   "encoding": {"x": {"datum": 0.55, "type": "quantitative", "scale": {"domain": [-34, 64], "nice": false, "zero": false}, "axis": null}, "y": {"datum": -0.272, "type": "quantitative", "scale": {"domain": [-0.5, 1.2], "nice": false, "zero": false}, "axis": null}}},
  {"data": {"values": [{}]}, "mark": {"type": "text", "text": "North Subtropical", "font": "Lato", "fontSize": 16, "color": "#1a1a1a"},
   "encoding": {"x": {"datum": 24.8, "type": "quantitative", "scale": {"domain": [-34, 64], "nice": false, "zero": false}, "axis": null}, "y": {"datum": 0.752, "type": "quantitative", "scale": {"domain": [-0.5, 1.2], "nice": false, "zero": false}, "axis": null}}},
  {"data": {"values": [{}]}, "mark": {"type": "text", "text": "Subpolar", "font": "Lato", "fontSize": 16, "color": "#1a1a1a"},
   "encoding": {"x": {"datum": 53, "type": "quantitative", "scale": {"domain": [-34, 64], "nice": false, "zero": false}, "axis": null}, "y": {"datum": -0.212, "type": "quantitative", "scale": {"domain": [-0.5, 1.2], "nice": false, "zero": false}, "axis": null}}},
  {"data": {"values": [{}]}, "mark": {"type": "text", "text": "P-E+R", "font": "Liberation Sans", "fontSize": 16, "fontWeight": "bold", "align": "center", "baseline": "alphabetic", "color": "#000000"},
   "encoding": {"x": {"datum": 15.1, "type": "quantitative", "scale": {"domain": [-34, 64], "nice": false, "zero": false}, "axis": null}, "y": {"datum": 1.2482, "type": "quantitative", "scale": {"domain": [-0.5, 1.2], "nice": false, "zero": false}, "axis": null}}},
  {"data": {"values": [{}]}, "mark": {"type": "text", "text": "(a)", "font": "Liberation Sans", "fontSize": 20, "fontWeight": "bold", "align": "left", "color": "#000000"},
   "encoding": {"x": {"datum": -45.1, "type": "quantitative", "scale": {"domain": [-34, 64], "nice": false, "zero": false}, "axis": null}, "y": {"datum": 1.262, "type": "quantitative", "scale": {"domain": [-0.5, 1.2], "nice": false, "zero": false}, "axis": null}}}
 ]
},
{
 "width": 538, "height": 248,
 "data": {"name": "b"},
 "resolve": {"axis": {"x": "independent", "y": "independent"}},
 "layer": [
  {"mark": {"type": "area", "color": "#0000ff", "opacity": 0.2, "clip": true},
   "encoding": {
    "x": {"field": "x", "type": "quantitative", "scale": {"domain": [-34, 64], "nice": false, "zero": false}, "axis": {"orient": "bottom", "values": [-30,-20,-10,0,10,20,30,40,50,60], "labelExpr": "datum.value < 0 ? (-datum.value) + '°S' : (datum.value > 0 ? datum.value + '°N' : '0°')", "grid": true, "title": null}},
    "y": {"field": "bl", "type": "quantitative", "scale": {"domain": [-0.008, 0.008], "nice": false, "zero": false}, "axis": {"orient": "left", "values": [-0.005, 0, 0.005], "labelExpr": "replace(format(datum.value, '~g'), '\u2212', '-')", "grid": true, "title": "Sv/m"}},
    "y2": {"field": "bh"}}},
  {"mark": {"type": "area", "color": "#ff0000", "opacity": 0.18, "clip": true},
   "encoding": {
    "x": {"field": "x", "type": "quantitative", "scale": {"domain": [-34, 64], "nice": false, "zero": false}, "axis": {"orient": "top", "values": [-30,-20,-10,0,10,20,30,40,50,60], "labels": false, "grid": false, "title": null}},
    "y": {"field": "rl", "type": "quantitative", "scale": {"domain": [-0.008, 0.008], "nice": false, "zero": false}, "axis": {"orient": "right", "values": [-0.005, 0, 0.005], "labels": false, "grid": false, "title": null}},
    "y2": {"field": "rh"}}},
  {"data": {"values": [{}]}, "mark": {"type": "rule", "color": "#555555", "strokeWidth": 1.2},
   "encoding": {"y": {"datum": 0, "type": "quantitative", "scale": {"domain": [-0.008, 0.008], "nice": false, "zero": false}, "axis": null}}},
  {"data": {"values": [{"v": -7}, {"v": 10}, {"v": 40}]},
   "mark": {"type": "rule", "color": "#555555", "strokeWidth": 0.8, "strokeDash": [3, 2]},
   "encoding": {"x": {"field": "v", "type": "quantitative", "scale": {"domain": [-34, 64], "nice": false, "zero": false}, "axis": null}}},
  {"mark": {"type": "line", "strokeWidth": 1.8, "clip": true},
   "encoding": {
    "x": {"field": "x", "type": "quantitative", "scale": {"domain": [-34, 64], "nice": false, "zero": false}, "axis": null},
    "y": {"field": "b", "type": "quantitative", "scale": {"domain": [-0.008, 0.008], "nice": false, "zero": false}, "axis": null},
    "color": {"datum": "RCP4.5", "type": "nominal", "scale": {"domain": ["RCP4.5", "RCP8.5"], "range": ["#0000ff", "#ff0000"]},
     "legend": {"title": null, "orient": "none", "legendX": 314, "legendY": 5, "symbolType": "stroke", "symbolSize": 1156, "symbolStrokeWidth": 2, "labelFont": "Liberation Sans", "labelFontSize": 14, "labelColor": "#262626", "labelOffset": 7, "rowPadding": 10, "padding": 0}}}},
  {"mark": {"type": "line", "strokeWidth": 1.8, "clip": true},
   "encoding": {
    "x": {"field": "x", "type": "quantitative", "scale": {"domain": [-34, 64], "nice": false, "zero": false}, "axis": null},
    "y": {"field": "r", "type": "quantitative", "scale": {"domain": [-0.008, 0.008], "nice": false, "zero": false}, "axis": null},
    "color": {"datum": "RCP8.5", "type": "nominal"}}},
  {"data": {"values": [{}]}, "mark": {"type": "text", "text": "South Subtropical", "font": "Lato", "fontSize": 16, "color": "#1a1a1a"},
   "encoding": {"x": {"datum": -20, "type": "quantitative", "scale": {"domain": [-34, 64], "nice": false, "zero": false}, "axis": null}, "y": {"datum": 0.00375, "type": "quantitative", "scale": {"domain": [-0.008, 0.008], "nice": false, "zero": false}, "axis": null}}},
  {"data": {"values": [{}]}, "mark": {"type": "text", "text": "Tropical", "font": "Lato", "fontSize": 16, "color": "#1a1a1a"},
   "encoding": {"x": {"datum": 0.55, "type": "quantitative", "scale": {"domain": [-34, 64], "nice": false, "zero": false}, "axis": null}, "y": {"datum": -0.00604, "type": "quantitative", "scale": {"domain": [-0.008, 0.008], "nice": false, "zero": false}, "axis": null}}},
  {"data": {"values": [{}]}, "mark": {"type": "text", "text": "North Subtropical", "font": "Lato", "fontSize": 16, "color": "#1a1a1a"},
   "encoding": {"x": {"datum": 24.8, "type": "quantitative", "scale": {"domain": [-34, 64], "nice": false, "zero": false}, "axis": null}, "y": {"datum": 0.00248, "type": "quantitative", "scale": {"domain": [-0.008, 0.008], "nice": false, "zero": false}, "axis": null}}},
  {"data": {"values": [{}]}, "mark": {"type": "text", "text": "Subpolar", "font": "Lato", "fontSize": 16, "color": "#1a1a1a"},
   "encoding": {"x": {"datum": 53, "type": "quantitative", "scale": {"domain": [-34, 64], "nice": false, "zero": false}, "axis": null}, "y": {"datum": -0.00553, "type": "quantitative", "scale": {"domain": [-0.008, 0.008], "nice": false, "zero": false}, "axis": null}}},
  {"data": {"values": [{}]}, "mark": {"type": "text", "text": "P-E+R difference (RCP - Hist.)", "font": "Liberation Sans", "fontSize": 16, "fontWeight": "bold", "align": "center", "baseline": "alphabetic", "color": "#000000"},
   "encoding": {"x": {"datum": 15.1, "type": "quantitative", "scale": {"domain": [-34, 64], "nice": false, "zero": false}, "axis": null}, "y": {"datum": 0.008452, "type": "quantitative", "scale": {"domain": [-0.008, 0.008], "nice": false, "zero": false}, "axis": null}}},
  {"data": {"values": [{}]}, "mark": {"type": "text", "text": "(b)", "font": "Liberation Sans", "fontSize": 20, "fontWeight": "bold", "align": "left", "color": "#000000"},
   "encoding": {"x": {"datum": -45.1, "type": "quantitative", "scale": {"domain": [-34, 64], "nice": false, "zero": false}, "axis": null}, "y": {"datum": 0.00839, "type": "quantitative", "scale": {"domain": [-0.008, 0.008], "nice": false, "zero": false}, "axis": null}}}
 ]
},
{
 "width": 538, "height": 250,
 "data": {"name": "c"},
 "resolve": {"axis": {"x": "independent", "y": "independent"}},
 "layer": [
  {"mark": {"type": "area", "color": "#808080", "opacity": 0.32, "clip": true, "interpolate": "monotone"},
   "encoding": {
    "x": {"field": "x", "type": "quantitative", "scale": {"domain": [-34, 64], "nice": false, "zero": false}, "axis": {"orient": "bottom", "values": [-30,-20,-10,0,10,20,30,40,50,60], "labelExpr": "datum.value < 0 ? (-datum.value) + '°S' : (datum.value > 0 ? datum.value + '°N' : '0°')", "grid": true, "title": null}},
    "y": {"field": "hl", "type": "quantitative", "scale": {"domain": [-1, 0.4], "nice": false, "zero": false}, "axis": {"orient": "left", "values": [-1, -0.8, -0.6, -0.4, -0.2, 0, 0.2, 0.4], "labelExpr": "replace(format(datum.value, '~g'), '\u2212', '-')", "grid": true, "title": "Sv"}},
    "y2": {"field": "hh"}}},
  {"mark": {"type": "area", "color": "#0000ff", "opacity": 0.2, "clip": true, "interpolate": "monotone"},
   "encoding": {
    "x": {"field": "x", "type": "quantitative", "scale": {"domain": [-34, 64], "nice": false, "zero": false}, "axis": {"orient": "top", "values": [-30,-20,-10,0,10,20,30,40,50,60], "labels": false, "grid": false, "title": null}},
    "y": {"field": "bl", "type": "quantitative", "scale": {"domain": [-1, 0.4], "nice": false, "zero": false}, "axis": {"orient": "right", "values": [-1, -0.8, -0.6, -0.4, -0.2, 0, 0.2, 0.4], "labels": false, "grid": false, "title": null}},
    "y2": {"field": "bh"}}},
  {"mark": {"type": "area", "color": "#ff0000", "opacity": 0.18, "clip": true, "interpolate": "monotone"},
   "encoding": {
    "x": {"field": "x", "type": "quantitative", "scale": {"domain": [-34, 64], "nice": false, "zero": false}, "axis": null},
    "y": {"field": "rl", "type": "quantitative", "scale": {"domain": [-1, 0.4], "nice": false, "zero": false}, "axis": null},
    "y2": {"field": "rh"}}},
  {"mark": {"type": "line", "color": "#000000", "strokeWidth": 1.5, "clip": true, "interpolate": "monotone"},
   "encoding": {
    "x": {"field": "x", "type": "quantitative", "scale": {"domain": [-34, 64], "nice": false, "zero": false}, "axis": null},
    "y": {"field": "h", "type": "quantitative", "scale": {"domain": [-1, 0.4], "nice": false, "zero": false}, "axis": null}}},
  {"mark": {"type": "line", "color": "#0000ff", "strokeWidth": 1.5, "clip": true, "interpolate": "monotone"},
   "encoding": {
    "x": {"field": "x", "type": "quantitative", "scale": {"domain": [-34, 64], "nice": false, "zero": false}, "axis": null},
    "y": {"field": "b", "type": "quantitative", "scale": {"domain": [-1, 0.4], "nice": false, "zero": false}, "axis": null}}},
  {"mark": {"type": "line", "color": "#ff0000", "strokeWidth": 1.5, "clip": true, "interpolate": "monotone"},
   "encoding": {
    "x": {"field": "x", "type": "quantitative", "scale": {"domain": [-34, 64], "nice": false, "zero": false}, "axis": null},
    "y": {"field": "r", "type": "quantitative", "scale": {"domain": [-1, 0.4], "nice": false, "zero": false}, "axis": null}}},
  {"data": {"values": [{}]}, "mark": {"type": "text", "text": "Integrated P-E+R", "font": "Liberation Sans", "fontSize": 16, "fontWeight": "bold", "align": "center", "baseline": "alphabetic", "color": "#000000"},
   "encoding": {"x": {"datum": 15.1, "type": "quantitative", "scale": {"domain": [-34, 64], "nice": false, "zero": false}, "axis": null}, "y": {"datum": 0.4448, "type": "quantitative", "scale": {"domain": [-1, 0.4], "nice": false, "zero": false}, "axis": null}}},
  {"data": {"values": [{}]}, "mark": {"type": "text", "text": "(c)", "font": "Liberation Sans", "fontSize": 20, "fontWeight": "bold", "align": "left", "color": "#000000"},
   "encoding": {"x": {"datum": -45.1, "type": "quantitative", "scale": {"domain": [-34, 64], "nice": false, "zero": false}, "axis": null}, "y": {"datum": 0.4224, "type": "quantitative", "scale": {"domain": [-1, 0.4], "nice": false, "zero": false}, "axis": null}}}
 ]
}
]
}
